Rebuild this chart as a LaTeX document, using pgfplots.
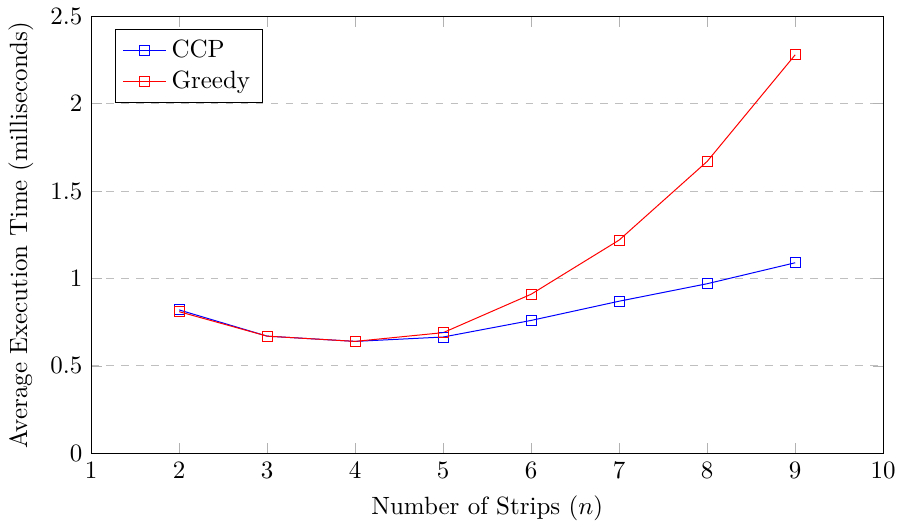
\documentclass[border=0pt]{standalone}
\usepackage{pgfplots}
\pgfplotsset{compat=1.18}
\begin{document}
\begin{tikzpicture}
\begin{axis}[
scale only axis,
width=11.15cm, height=6.15cm,
xmin=1, xmax=10,
ymin=0, ymax=2.5,
xtick={1,2,...,10},
ytick={0,0.5,1,1.5,2,2.5},
xlabel={Number of Strips ($n$)},
ylabel={Average Execution Time (milliseconds)},
ymajorgrids,
y grid style={dashed, gray!50},
tick style={gray!60},
legend pos=north west,
legend cell align={left},
]
\addplot [blue, mark=square] coordinates {
(2,0.82) (3,0.67) (4,0.64) (5,0.665) (6,0.76) (7,0.87) (8,0.97) (9,1.09)
};
\addlegendentry{CCP}
\addplot [red, mark=square] coordinates {
(2,0.81) (3,0.67) (4,0.64) (5,0.69) (6,0.91) (7,1.22) (8,1.67) (9,2.28)
};
\addlegendentry{Greedy}
\end{axis}
\end{tikzpicture}
\end{document}
